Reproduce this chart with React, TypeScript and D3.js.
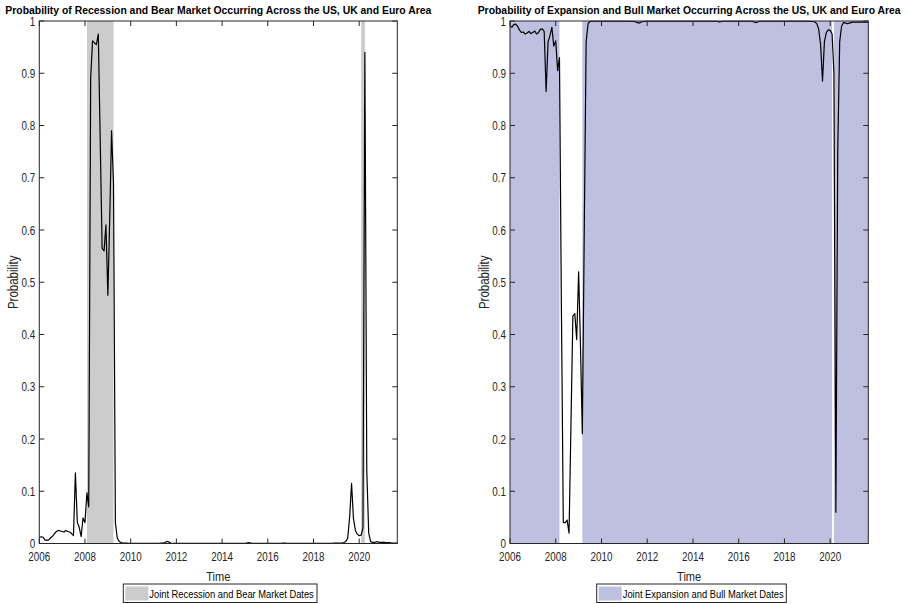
import React from "react";
import * as d3 from "d3";

// ---------- DATA ----------
const startMonth = "2006-01";
const endMonth = "2021-09";

// Probability of joint recession & bear market (monthly, Jan 2006 .. Sep 2021)
const recessionBearProb: number[] = [
  0.012, 0.013, 0.012, 0.007, 0.006, 0.007, 0.011, 0.014, 0.019, 0.023, 0.025, 0.024,
  0.023, 0.022, 0.025, 0.023, 0.022, 0.019, 0.015, 0.135, 0.040, 0.031, 0.013, 0.049,
  0.040, 0.097, 0.070, 0.890, 0.962, 0.958, 0.955, 0.975, 0.770, 0.565, 0.560, 0.610,
  0.475, 0.630, 0.790, 0.690, 0.040, 0.010, 0.004, 0.002, 0.001, 0.001, 0.001, 0.0005,
  0.0005, 0.0005, 0.0005, 0.0005, 0.0005, 0.0005, 0.0005, 0.0005, 0.0005, 0.0005, 0.0005, 0.0005,
  0.0005, 0.0005, 0.0005, 0.0005, 0.001, 0.001, 0.002, 0.004, 0.003, 0.001, 0.0005, 0.0005,
  0.0005, 0.0005, 0.0005, 0.0005, 0.0005, 0.0005, 0.0005, 0.0005, 0.0005, 0.0005, 0.0005, 0.0005,
  0.0005, 0.0005, 0.0005, 0.0005, 0.0005, 0.0005, 0.0005, 0.0005, 0.0005, 0.0005, 0.0005, 0.0005,
  0.0005, 0.0005, 0.0005, 0.0005, 0.0005, 0.0005, 0.0005, 0.0005, 0.0005, 0.0005, 0.0005, 0.0005,
  0.0005, 0.001, 0.0015, 0.001, 0.0005, 0.0005, 0.0005, 0.0005, 0.0005, 0.0005, 0.0005, 0.0005,
  0.0005, 0.0005, 0.0005, 0.0005, 0.0005, 0.0005, 0.0005, 0.0005, 0.001, 0.001, 0.0005, 0.0005,
  0.0005, 0.0005, 0.0005, 0.0005, 0.0005, 0.0005, 0.0005, 0.0005, 0.0005, 0.0005, 0.0005, 0.0005,
  0.0005, 0.0005, 0.0005, 0.0005, 0.0005, 0.0005, 0.0005, 0.0005, 0.0005, 0.0005, 0.0005, 0.001,
  0.001, 0.001, 0.001, 0.001, 0.002, 0.004, 0.010, 0.050, 0.115, 0.048, 0.025, 0.018,
  0.015, 0.016, 0.030, 0.940, 0.140, 0.020, 0.004, 0.002, 0.002, 0.003, 0.003, 0.002,
  0.002, 0.002, 0.0015, 0.0015, 0.0015, 0.001, 0.001, 0.001, 0.001,
];

// Probability of joint expansion & bull market (monthly, Jan 2006 .. Sep 2021)
const expansionBullProb: number[] = [
  0.990, 0.988, 0.993, 0.994, 0.990, 0.983, 0.978, 0.979, 0.975, 0.977, 0.980, 0.976,
  0.978, 0.981, 0.975, 0.978, 0.984, 0.985, 0.980, 0.865, 0.960, 0.972, 0.988, 0.952,
  0.962, 0.905, 0.930, 0.450, 0.040, 0.040, 0.045, 0.020, 0.230, 0.435, 0.440, 0.390,
  0.520, 0.370, 0.210, 0.600, 0.960, 0.995, 0.999, 0.9995, 0.9995, 0.9995, 0.9995, 0.9995,
  0.9995, 0.9995, 0.9995, 0.9995, 0.9995, 0.9995, 0.9995, 0.9995, 0.9995, 0.9995, 0.9995, 0.9995,
  0.9995, 0.9995, 0.9995, 0.9995, 0.999, 0.999, 0.998, 0.997, 0.996, 0.998, 0.999, 0.9995,
  0.9995, 0.9995, 0.9995, 0.9995, 0.9995, 0.9995, 0.9995, 0.9995, 0.9995, 0.9995, 0.9995, 0.9995,
  0.9995, 0.9995, 0.9995, 0.9995, 0.9995, 0.9995, 0.9995, 0.9995, 0.9995, 0.9995, 0.9995, 0.9995,
  0.9995, 0.9995, 0.9995, 0.9995, 0.9995, 0.9995, 0.9995, 0.9995, 0.9995, 0.9995, 0.9995, 0.9995,
  0.9995, 0.999, 0.998, 0.999, 0.9995, 0.9995, 0.9995, 0.9995, 0.9995, 0.9995, 0.9995, 0.9995,
  0.9995, 0.9995, 0.9995, 0.9995, 0.9995, 0.9995, 0.9995, 0.9995, 0.998, 0.997, 0.998, 0.9995,
  0.9995, 0.9995, 0.9995, 0.9995, 0.9995, 0.9995, 0.9995, 0.9995, 0.9995, 0.9995, 0.9995, 0.9995,
  0.9995, 0.9995, 0.9995, 0.9995,
  0.9995, 0.9995, 0.9995, 0.9995, 0.9995, 0.9995, 0.9995, 0.9995, 0.9995, 0.9995, 0.999, 0.999,
  0.998, 0.995, 0.985, 0.955, 0.885, 0.960, 0.978, 0.983, 0.982, 0.975, 0.900, 0.060,
  0.750, 0.960, 0.990, 0.997, 0.996, 0.995, 0.996, 0.997, 0.998, 0.998, 0.998, 0.998,
  0.998, 0.998, 0.998, 0.998, 0.998,
];

// Shaded regime dates
const recessionStarts = ["2008-02", "2020-02"];
const recessionEnds = ["2009-04", "2020-04"];
const expansionStarts = ["2006-01", "2009-03", "2020-03"];
const expansionEnds = ["2008-03", "2020-02", "2021-09"];

const yTicks = [0, 0.1, 0.2, 0.3, 0.4, 0.5, 0.6, 0.7, 0.8, 0.9, 1];

const titles = [
  "Probability of Recession and Bear Market Occurring Across the US, UK and Euro Area",
  "Probability of Expansion and Bull Market Occurring Across the US, UK and Euro Area",
];
const legendLabels = [
  "Joint Recession and Bear Market Dates",
  "Joint Expansion and Bull Market Dates",
];

// ---------- CHART ----------
const parseM = d3.timeParse("%Y-%m");
const FONT = "'Liberation Sans', Arial, Helvetica, sans-serif";
const AX = "#262626";
const NARROW = 0.82;

type NTextProps = {
  x: number;
  y: number;
  size: number;
  anchor?: "start" | "middle" | "end";
  bold?: boolean;
  rotate?: number;
  fill?: string;
  width?: number;
  children: React.ReactNode;
};

// Narrow (condensed) text, like Helvetica Narrow used by the original figure
function NText({ x, y, size, anchor = "start", bold, rotate = 0, fill = AX, width, children }: NTextProps) {
  return (
    <text
      transform={`translate(${x},${y}) rotate(${rotate}) scale(${NARROW},1)`}
      textAnchor={anchor}
      fontSize={size}
      fontWeight={bold ? "bold" : "normal"}
      fontFamily={FONT}
      fill={fill}
      textLength={width ? width / NARROW : undefined}
      lengthAdjust={width ? "spacingAndGlyphs" : undefined}
    >
      {children}
    </text>
  );
}

type PanelProps = {
  x0: number;
  x1: number;
  title: string;
  titleWidth: number;
  values: number[];
  starts: string[];
  ends: string[];
  shade: string;
  legend: string;
  legendBox: [number, number];
  legendTextWidth: number;
};

function Panel(p: PanelProps) {
  const yTop = 21;
  const yBot = 543.5;
  const dates = d3.timeMonth.range(parseM(startMonth)!, d3.timeMonth.offset(parseM(endMonth)!, 1));
  const x = d3.scaleTime().domain([parseM(startMonth)!, parseM(endMonth)!]).range([p.x0, p.x1]);
  const y = d3.scaleLinear().domain([0, 1]).range([yBot, yTop]);
  const line = d3
    .line<number>()
    .x((_, i) => x(dates[i]))
    .y((v) => y(v));
  const xTicks = d3.timeYear.range(parseM("2006-01")!, parseM("2021-01")!, 2);
  const cx = (p.x0 + p.x1) / 2;
  const tl = 5;
  const [lb0, lb1] = p.legendBox;

  return (
    <g>
      {/* shading */}
      {p.starts.map((s, i) => {
        const a = x(parseM(s)!);
        const b = x(parseM(p.ends[i])!);
        return <rect key={i} x={a} y={yTop} width={b - a} height={yBot - yTop} fill={p.shade} />;
      })}
      {/* data line */}
      <path d={line(p.values) || ""} fill="none" stroke="#000" strokeWidth={1.2} strokeLinejoin="round" />
      {/* axes box */}
      <rect x={p.x0} y={yTop} width={p.x1 - p.x0} height={yBot - yTop} fill="none" stroke={AX} strokeWidth={1} />
      {/* x ticks */}
      {xTicks.map((t, i) => {
        const xx = x(t);
        return (
          <g key={i}>
            <line x1={xx} x2={xx} y1={yBot} y2={yBot - tl} stroke={AX} />
            <line x1={xx} x2={xx} y1={yTop} y2={yTop + tl} stroke={AX} />
            <NText x={xx} y={561} size={12} anchor="middle">
              {d3.timeFormat("%Y")(t)}
            </NText>
          </g>
        );
      })}
      {/* y ticks */}
      {yTicks.map((t, i) => {
        const yy = y(t);
        return (
          <g key={i}>
            <line x1={p.x0} x2={p.x0 + tl} y1={yy} y2={yy} stroke={AX} />
            <line x1={p.x1} x2={p.x1 - tl} y1={yy} y2={yy} stroke={AX} />
            <NText x={p.x0 - 4} y={yy + 4.5} size={12} anchor="end">
              {String(t)}
            </NText>
          </g>
        );
      })}
      {/* title */}
      <NText x={cx} y={13.5} size={11} anchor="middle" bold fill="#000" width={p.titleWidth}>
        {p.title}
      </NText>
      {/* axis labels */}
      <NText x={cx} y={580.5} size={13.5} anchor="middle">
        Time
      </NText>
      <NText x={p.x0 - 21} y={(yTop + yBot) / 2} size={14} anchor="middle" rotate={-90}>
        Probability
      </NText>
      {/* legend */}
      <rect x={lb0} y={584} width={lb1 - lb0} height={18.5} fill="#fff" stroke={AX} strokeWidth={1} />
      <rect x={lb0 + 2} y={586.5} width={23} height={14} fill={p.shade} />
      <NText x={lb0 + 26} y={597.5} size={11} fill="#000" width={p.legendTextWidth}>
        {p.legend}
      </NText>
    </g>
  );
}

export default function App() {
  return (
    <svg
      width={908}
      height={604}
      viewBox="0 0 908 604"
      style={{ position: "absolute", left: 0, top: 0, background: "#fff" }}
    >
      <rect x={0} y={0} width={908} height={604} fill="#fff" />
      <Panel
        x0={39.3}
        x1={397.3}
        title={titles[0]}
        titleWidth={426}
        values={recessionBearProb}
        starts={recessionStarts}
        ends={recessionEnds}
        shade="#cccccc"
        legend={legendLabels[0]}
        legendBox={[123.3, 317]}
        legendTextWidth={164.5}
      />
      <Panel
        x0={510}
        x1={868.3}
        title={titles[1]}
        titleWidth={423}
        values={expansionBullProb}
        starts={expansionStarts}
        ends={expansionEnds}
        shade="#bfbfe0"
        legend={legendLabels[1]}
        legendBox={[596.7, 786.3]}
        legendTextWidth={161}
      />
    </svg>
  );
}
